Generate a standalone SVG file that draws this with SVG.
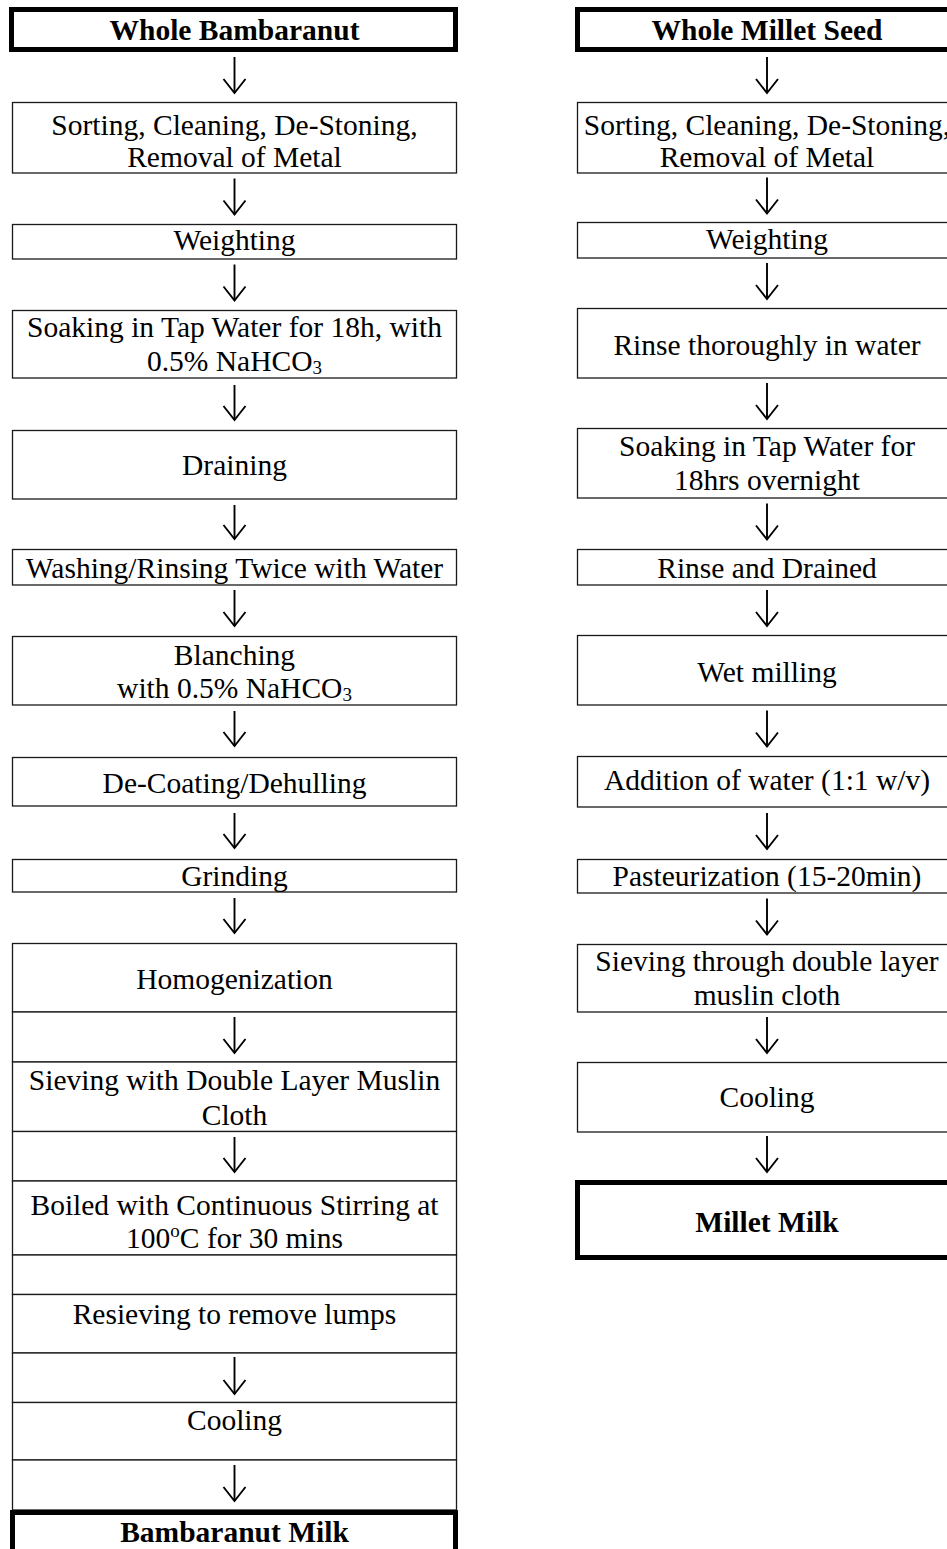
<svg xmlns="http://www.w3.org/2000/svg" width="947" height="1549" viewBox="0 0 947 1549">
<defs>
<style>
.box{fill:#fff;stroke:#1a1a1a;stroke-width:1.3}
.term{fill:#fff;stroke:#000;stroke-width:5}
.t{font-family:"Liberation Serif","Times New Roman",serif;font-size:29.5px;text-anchor:middle;fill:#000}
.b{font-weight:bold}
.sub{font-size:19px}
.arrow{stroke:#000;stroke-width:1.9;fill:none;marker-end:url(#ah)}
</style>
<marker id="ah" markerUnits="userSpaceOnUse" viewBox="-16 -13 18 26" markerWidth="18" markerHeight="26" refX="0" refY="0" orient="auto" overflow="visible">
<path d="M-14,-11 L0,0 L-14,11" fill="none" stroke="#000" stroke-width="1.9"/>
</marker>
</defs>
<rect width="947" height="1549" fill="#fff"/>

<g id="left-column">
<g id="L1"><rect class="term" x="11.5" y="9.5" width="444" height="40"/><text class="t b" x="234.5" y="40">Whole Bambaranut</text></g>
<g id="L2"><rect class="box" x="12.5" y="102.5" width="444" height="70.5"/><text class="t" x="234.5" y="134.5">Sorting, Cleaning, De-Stoning,</text><text class="t" x="234.5" y="166.5">Removal of Metal</text></g>
<g id="L3"><rect class="box" x="12.5" y="224.5" width="444" height="34.5"/><text class="t" x="234.5" y="250">Weighting</text></g>
<g id="L4"><rect class="box" x="12.5" y="310.5" width="444" height="67.5"/><text class="t" x="234.5" y="337">Soaking in Tap Water for 18h, with</text><text class="t" x="234.5" y="371">0.5% NaHCO<tspan class="sub" dy="3">3</tspan></text></g>
<g id="L5"><rect class="box" x="12.5" y="430.5" width="444" height="68.5"/><text class="t" x="234.5" y="475">Draining</text></g>
<g id="L6"><rect class="box" x="12.5" y="549.5" width="444" height="35.5"/><text class="t" x="234.5" y="578">Washing/Rinsing Twice with Water</text></g>
<g id="L7"><rect class="box" x="12.5" y="636.5" width="444" height="68.5"/><text class="t" x="234.5" y="665">Blanching</text><text class="t" x="234.5" y="698">with 0.5% NaHCO<tspan class="sub" dy="3">3</tspan></text></g>
<g id="L8"><rect class="box" x="12.5" y="757.5" width="444" height="48.5"/><text class="t" x="234.5" y="793">De-Coating/Dehulling</text></g>
<g id="L9"><rect class="box" x="12.5" y="859.5" width="444" height="32.5"/><text class="t" x="234.5" y="886">Grinding</text></g>
<g id="L10"><rect class="box" x="12.5" y="943.5" width="444" height="68.5"/><text class="t" x="234.5" y="989">Homogenization</text></g>
<g id="L11"><rect class="box" x="12.5" y="1012" width="444" height="50"/></g>
<g id="L12"><rect class="box" x="12.5" y="1062" width="444" height="69.5"/><text class="t" x="234.5" y="1089.5">Sieving with Double Layer Muslin</text><text class="t" x="234.5" y="1124.5">Cloth</text></g>
<g id="L13"><rect class="box" x="12.5" y="1131.5" width="444" height="49.5"/></g>
<g id="L14"><rect class="box" x="12.5" y="1181" width="444" height="74"/><text class="t" x="234.5" y="1214.5">Boiled with Continuous Stirring at</text><text class="t" x="234.5" y="1248">100<tspan class="sub" dy="-11">o</tspan><tspan dy="11">C for 30 mins</tspan></text></g>
<g id="L15"><rect class="box" x="12.5" y="1255" width="444" height="39.5"/></g>
<g id="L16"><rect class="box" x="12.5" y="1294.5" width="444" height="58.5"/><text class="t" x="234.5" y="1324">Resieving to remove lumps</text></g>
<g id="L17"><rect class="box" x="12.5" y="1353" width="444" height="49.5"/></g>
<g id="L18"><rect class="box" x="12.5" y="1402.5" width="444" height="57.5"/><text class="t" x="234.5" y="1430">Cooling</text></g>
<g id="L19"><rect class="box" x="12.5" y="1460" width="444" height="50"/></g>
<g id="L20"><rect class="term" x="12.5" y="1512.5" width="443" height="60"/><text class="t b" x="234.5" y="1542">Bambaranut Milk</text></g>
</g>

<g id="right-column">
<g id="R1"><rect class="term" x="577.5" y="9.5" width="400" height="40"/><text class="t b" x="767" y="40">Whole Millet Seed</text></g>
<g id="R2"><rect class="box" x="577.5" y="102.5" width="380" height="70.5"/><text class="t" x="767" y="134.5">Sorting, Cleaning, De-Stoning,</text><text class="t" x="767" y="166.5">Removal of Metal</text></g>
<g id="R3"><rect class="box" x="577.5" y="222.5" width="380" height="35.5"/><text class="t" x="767" y="249">Weighting</text></g>
<g id="R4"><rect class="box" x="577.5" y="308.5" width="380" height="69.5"/><text class="t" x="767" y="355">Rinse thoroughly in water</text></g>
<g id="R5"><rect class="box" x="577.5" y="428.5" width="380" height="69.5"/><text class="t" x="767" y="456">Soaking in Tap Water for</text><text class="t" x="767" y="490">18hrs overnight</text></g>
<g id="R6"><rect class="box" x="577.5" y="549.5" width="380" height="35.5"/><text class="t" x="767" y="578">Rinse and Drained</text></g>
<g id="R7"><rect class="box" x="577.5" y="635.5" width="380" height="69.5"/><text class="t" x="767" y="682">Wet milling</text></g>
<g id="R8"><rect class="box" x="577.5" y="756.5" width="380" height="50.5"/><text class="t" x="767" y="790">Addition of water (1:1 w/v)</text></g>
<g id="R9"><rect class="box" x="577.5" y="859.5" width="380" height="33.5"/><text class="t" x="767" y="886">Pasteurization (15-20min)</text></g>
<g id="R10"><rect class="box" x="577.5" y="944.5" width="380" height="67.5"/><text class="t" x="767" y="971">Sieving through double layer</text><text class="t" x="767" y="1005">muslin cloth</text></g>
<g id="R11"><rect class="box" x="577.5" y="1062.5" width="380" height="69.5"/><text class="t" x="767" y="1107">Cooling</text></g>
<g id="R12"><rect class="term" x="577.5" y="1182.5" width="400" height="75"/><text class="t b" x="767" y="1232">Millet Milk</text></g>
</g>

<g id="connectors">
<path class="arrow" d="M234.5,57 V93"/>
<path class="arrow" d="M234.5,178.5 V214.5"/>
<path class="arrow" d="M234.5,264.5 V300.5"/>
<path class="arrow" d="M234.5,385 V420"/>
<path class="arrow" d="M234.5,505 V539"/>
<path class="arrow" d="M234.5,590 V626"/>
<path class="arrow" d="M234.5,711 V746"/>
<path class="arrow" d="M234.5,813 V848"/>
<path class="arrow" d="M234.5,898 V933"/>
<path class="arrow" d="M234.5,1017 V1053"/>
<path class="arrow" d="M234.5,1137 V1172"/>
<path class="arrow" d="M234.5,1357 V1394"/>
<path class="arrow" d="M234.5,1465 V1501"/>
<path class="arrow" d="M767,57 V93"/>
<path class="arrow" d="M767,177.5 V213.5"/>
<path class="arrow" d="M767,263 V299"/>
<path class="arrow" d="M767,383 V419"/>
<path class="arrow" d="M767,503.5 V539.5"/>
<path class="arrow" d="M767,590 V626"/>
<path class="arrow" d="M767,710.5 V746.5"/>
<path class="arrow" d="M767,813 V849"/>
<path class="arrow" d="M767,898.5 V934.5"/>
<path class="arrow" d="M767,1017 V1053"/>
<path class="arrow" d="M767,1136 V1172"/>
</g>
</svg>
